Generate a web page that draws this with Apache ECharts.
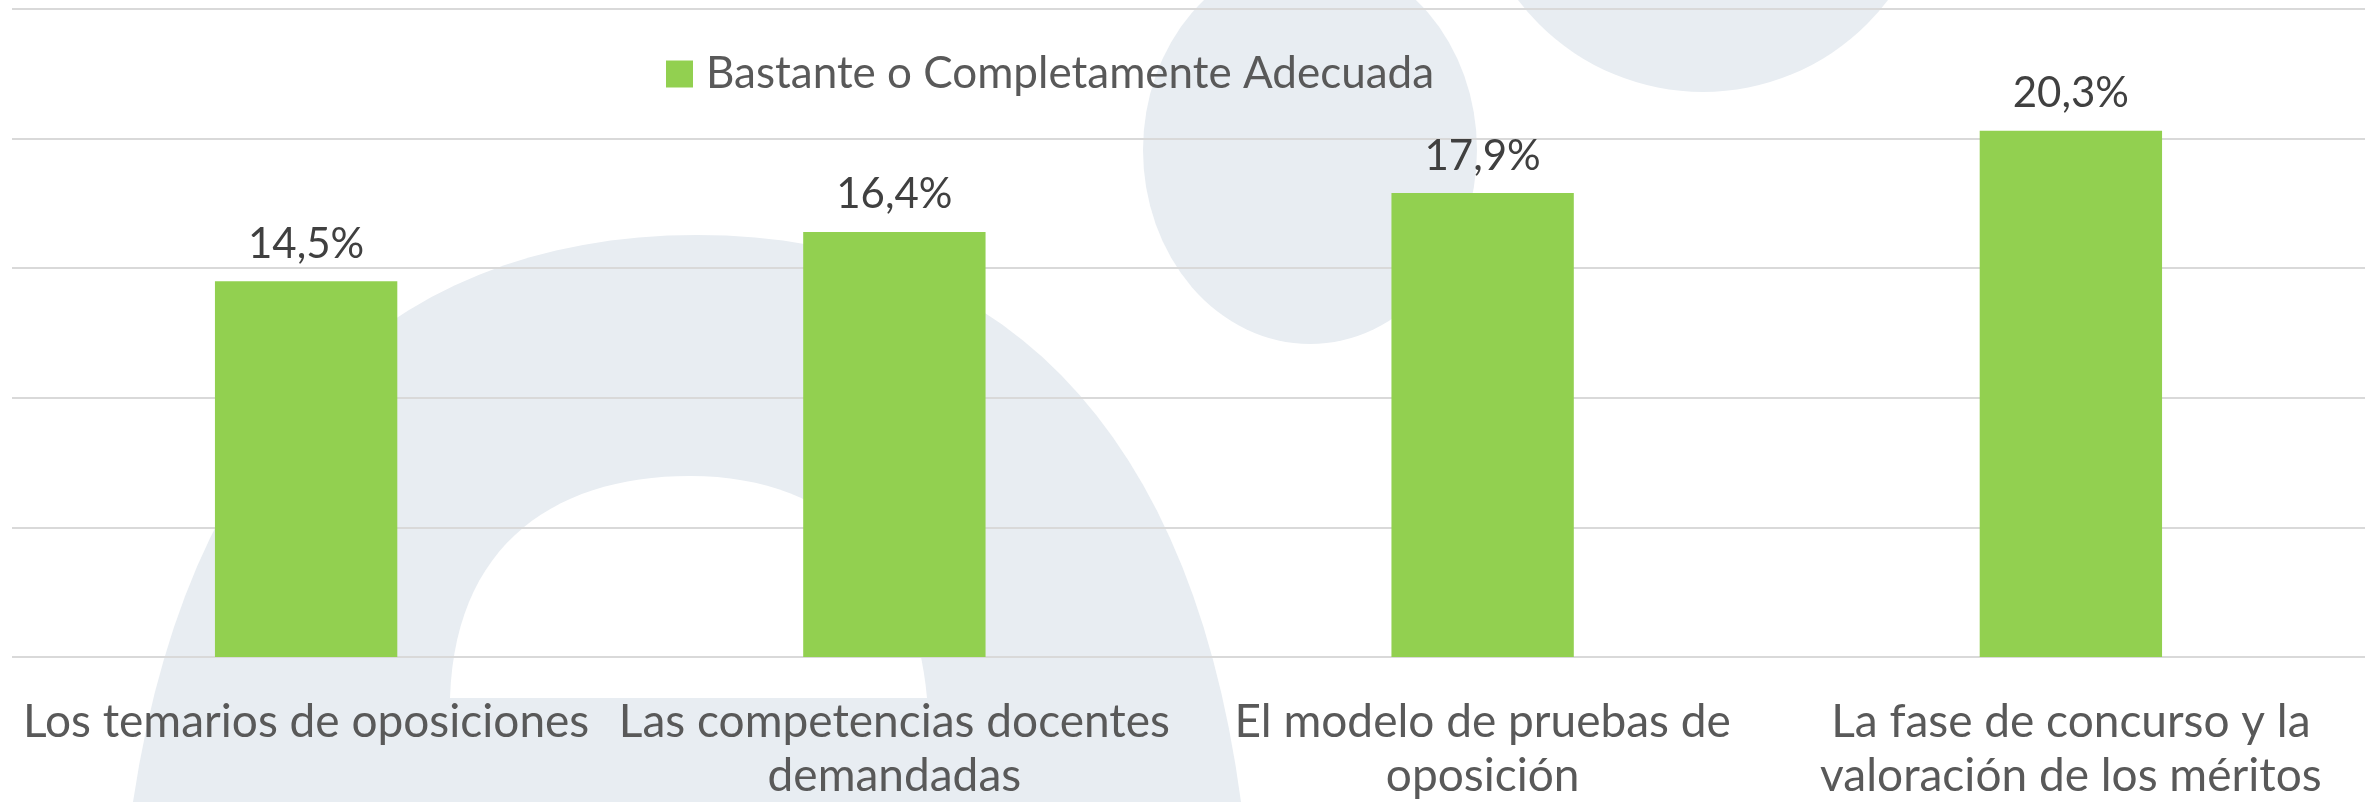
<!DOCTYPE html>
<html>
<head>
<meta charset="utf-8">
<script src="https://cdn.jsdelivr.net/npm/echarts@6/dist/echarts.min.js"></script>
<style>
  html, body { margin: 0; padding: 0; background: #ffffff; }
  #chart { width: 2374px; height: 802px; }
</style>
</head>
<body>
<div id="chart"></div>
<script>
const categories = [
  "Los temarios de oposiciones",
  "Las competencias docentes\ndemandadas",
  "El modelo de pruebas de\noposición",
  "La fase de concurso y la\nvaloración de los méritos"
];
const seriesName = "Bastante o Completamente Adecuada";
const values = [14.5, 16.4, 17.9, 20.3];

// sample a chain of cubic curves into polygon points (watermark shapes)
function curvePoints(start, segments) {
  const pts = [start];
  let p0 = start;
  segments.forEach(function (s) {
    for (let i = 1; i <= 30; i++) {
      const t = i / 30, u = 1 - t;
      pts.push([
        u * u * u * p0[0] + 3 * u * u * t * s[0][0] + 3 * u * t * t * s[1][0] + t * t * t * s[2][0],
        u * u * u * p0[1] + 3 * u * u * t * s[0][1] + 3 * u * t * t * s[1][1] + t * t * t * s[2][1]
      ]);
    }
    p0 = s[2];
  });
  return pts;
}

document.addEventListener("DOMContentLoaded", function () {
  const chart = echarts.init(document.getElementById("chart"));
  const font = "Lato";
  const decor = "#e8edf2";

  const archOuter = curvePoints([133, 802], [
    [[190, 420], [400, 235], [697, 235]],
    [[994, 235], [1190, 420], [1241, 802]]
  ]);
  const archInner = curvePoints([450, 698], [
    [[455, 540], [560, 476], [690, 476]],
    [[830, 476], [915, 560], [927, 698]]
  ]);

  const option = {
    backgroundColor: "#ffffff",
    animation: false,
    graphic: [
      { type: "polygon", z: -10, silent: true, shape: { points: archOuter }, style: { fill: decor } },
      { type: "polygon", z: -9, silent: true, shape: { points: archInner }, style: { fill: "#ffffff" } },
      {
        type: "circle", z: -10, silent: true,
        x: 1310, y: 150, scaleX: 167 / 194,
        shape: { cx: 0, cy: 0, r: 194 },
        style: { fill: decor }
      },
      { type: "circle", z: -10, silent: true, shape: { cx: 1703, cy: -140, r: 232 }, style: { fill: decor } }
    ],
    legend: {
      data: [seriesName],
      left: 661,
      top: 47,
      itemWidth: 27,
      itemHeight: 27,
      icon: "rect",
      textStyle: { color: "#595959", fontSize: 44, fontFamily: font, padding: [0, 0, 0, 8] }
    },
    grid: { left: 12, right: 9, top: 9, bottom: 145, containLabel: false, outerBoundsMode: "none" },
    xAxis: {
      type: "category",
      data: categories,
      axisLine: { show: false },
      axisTick: { show: false },
      axisLabel: {
        interval: 0,
        margin: 38,
        color: "#595959",
        fontSize: 46,
        lineHeight: 54,
        fontFamily: font
      }
    },
    yAxis: {
      type: "value",
      min: 0,
      max: 25,
      interval: 5,
      axisLabel: { show: false },
      axisLine: { show: false },
      axisTick: { show: false },
      splitLine: { lineStyle: { color: "#d9d9d9", width: 2 } }
    },
    series: [
      {
        name: seriesName,
        type: "bar",
        data: values,
        barWidth: "31%",
        itemStyle: { color: "#92d050" },
        label: {
          show: true,
          position: "top",
          distance: 16,
          color: "#404040",
          fontSize: 42,
          fontFamily: font,
          formatter: function (p) {
            return p.value.toFixed(1).replace(".", ",") + "%";
          }
        }
      }
    ]
  };

  chart.setOption(option);
  window.addEventListener("resize", function () {
    chart.resize();
  });
});
</script>
</body>
</html>
